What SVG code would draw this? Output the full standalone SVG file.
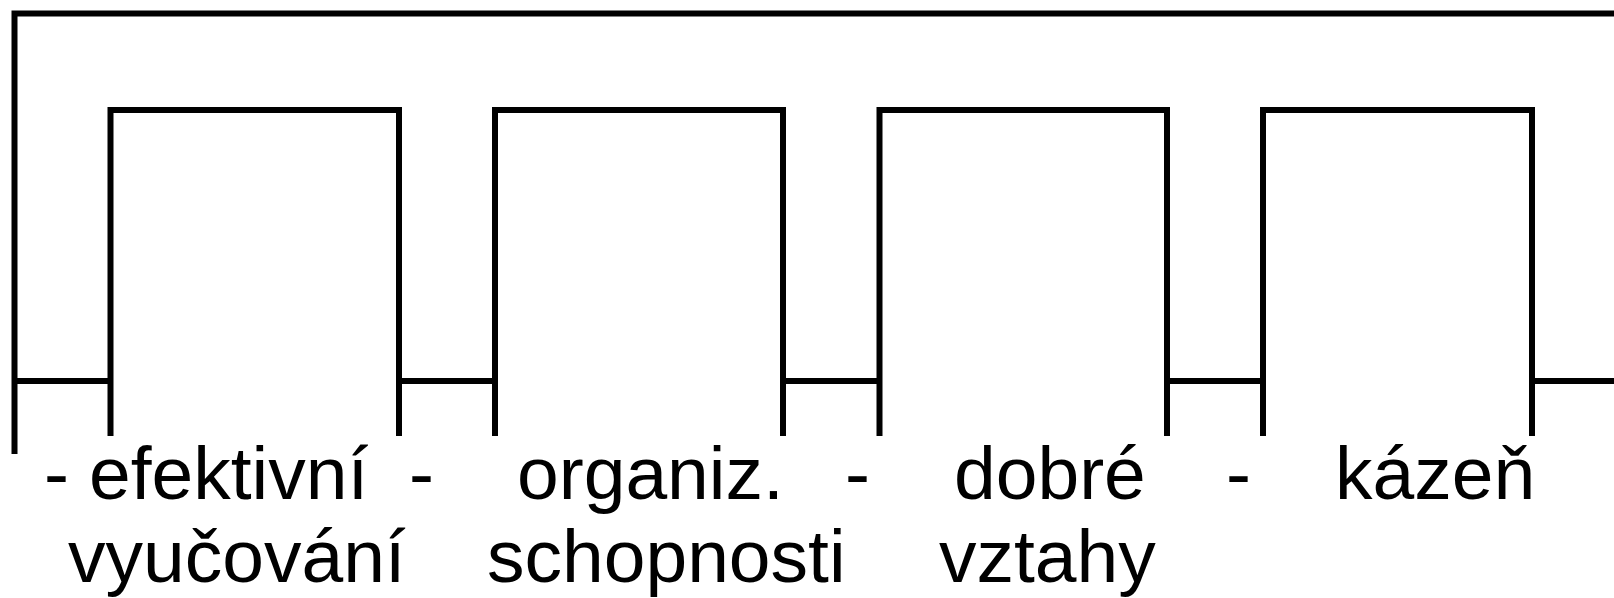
<svg xmlns="http://www.w3.org/2000/svg" width="1614" height="598" viewBox="0 0 1614 598">
<style>
.ln{fill:none;stroke:#000;stroke-width:6;stroke-linejoin:miter;stroke-linecap:butt}
.t{font-family:"Liberation Sans",Arial,sans-serif;font-size:75px;fill:#000}
</style>
<rect width="1614" height="598" fill="#fff"/>
<g id="connectors">
<path class="ln" d="M14.5,454 V13.5 H1614"/>
<path class="ln" d="M14.5,381 H110.5 M399,381 H495 M783,381 H879.5 M1167,381 H1263 M1532,381 H1614"/>
</g>
<g id="node-1"><path class="ln" d="M110.5,436 V110 H399 V436"/></g>
<g id="node-2"><path class="ln" d="M495,436 V110 H783 V436"/></g>
<g id="node-3"><path class="ln" d="M879.5,436 V110 H1167 V436"/></g>
<g id="node-4"><path class="ln" d="M1263,436 V110 H1532 V436"/></g>
<g id="labels">
<text class="t" x="44" y="499">-</text>
<text class="t" x="89" y="499">efektivní</text>
<text class="t" x="409" y="499">-</text>
<text class="t" x="517" y="499">organiz.</text>
<text class="t" x="845" y="499">-</text>
<text class="t" x="954" y="499">dobré</text>
<text class="t" x="1226" y="499">-</text>
<text class="t" x="1335" y="499">kázeň</text>
<text class="t" x="68" y="582">vyučování</text>
<text class="t" x="487" y="582">schopnosti</text>
<text class="t" x="939" y="582">vztahy</text>
</g>
</svg>
